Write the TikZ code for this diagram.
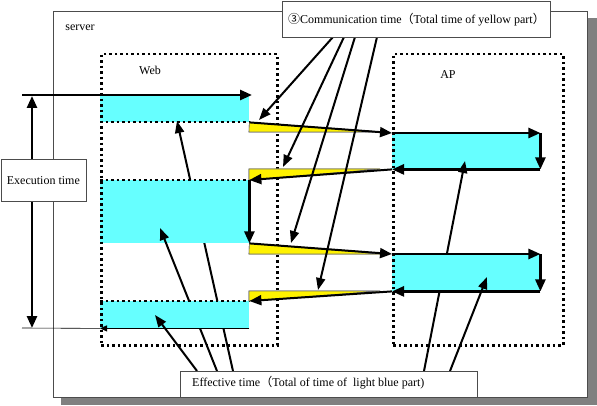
\documentclass[tikz,border=0pt]{standalone}
\usepackage{fontspec}
\setmainfont{Liberation Serif}
\newfontfamily\cjk{Noto Sans CJK JP}
\usetikzlibrary{arrows.meta}
\definecolor{lblue}{RGB}{102,255,255}
\definecolor{shadowgray}{RGB}{128,128,128}
\begin{document}
\begin{tikzpicture}[x=1pt,y=-1pt,
  every node/.style={font=\fontsize{12}{14}\selectfont, inner sep=0pt},
  flow/.style={line width=2.6pt, -{Triangle[length=12pt,width=10pt]}},
  slant/.style={line width=2pt, -{Triangle[length=12pt,width=10pt]}},
  pointer/.style={line width=2pt, -{Triangle[length=12pt,width=9pt]}},
  dotbox/.style={draw, line width=2.5pt, dash pattern=on 2.5pt off 3pt},
  dotedge/.style={line width=2.2pt, dash pattern=on 2.5pt off 3pt},
  cyanpart/.style={fill=lblue, anchor=north west},
  yelpart/.style={fill=yellow, draw=black!55, line width=0.6pt},
  txtbox/.style={draw=black!70, fill=white, line width=0.8pt, anchor=north west}]
\useasboundingbox (0,0) rectangle (597,406);
% server frame with shadow
\fill[shadowgray] (61,18) rectangle (597,405);
\node[draw=black!70, fill=white, line width=0.8pt, anchor=north west,
      minimum width=534pt, minimum height=386pt] (server) at (53,11) {};
\node (serverlbl) at (80,28) {server};
\node (weblbl) at (150,70) {Web};
\node (aplbl) at (448,75) {AP};
% start points of effective-time pointers
\coordinate (e1) at (233,371);
\coordinate (e2) at (217,371);
\coordinate (e3) at (197,371);
\coordinate (e4) at (424,371);
\coordinate (e5) at (450,371);
\coordinate (t1) at (177,121);
\coordinate (t2) at (160,228);
\coordinate (t3) at (155,315);
\coordinate (t4) at (465,161);
\coordinate (t5) at (487,277);
% light blue parts with pointers layered
\node[cyanpart, minimum width=149pt, minimum height=26pt] (w1) at (100,96) {};
\draw[pointer] (e1) -- (t1);
\node[cyanpart, minimum width=149pt, minimum height=63pt] (w2) at (100,180) {};
\draw[pointer] (e2) -- (t2);
\node[cyanpart, minimum width=149pt, minimum height=27pt] (w3) at (100,301) {};
\draw[pointer] (e3) -- (t3);
\node[cyanpart, minimum width=148pt, minimum height=36pt] (a1) at (392,133) {};
\draw[pointer] (e4) -- (t4);
\node[cyanpart, minimum width=148pt, minimum height=37pt] (a2) at (392,254) {};
\draw[pointer] (e5) -- (t5);
% dotted boxes
\node[dotbox, anchor=north west, minimum width=176pt, minimum height=291pt] (web) at (100,53) {};
\node[dotbox, anchor=north west, minimum width=170pt, minimum height=291pt] (ap) at (392,53) {};
\draw[dotedge] (w1.south west) -- (w1.south east);
\draw[dotedge] (w2.north west) -- (w2.north east);
\draw[dotedge] (w3.north west) -- (w3.north east);
% yellow parts
\fill[yelpart] (w1.south east) -- (383,132) -- (249,132) -- cycle;
\fill[yelpart] (249,169) -- (380,169) -- (249,180) -- cycle;
\fill[yelpart] (w2.south east) -- (383,254) -- (249,254) -- cycle;
\fill[yelpart] (249,291) -- (380,291) -- (249,301) -- cycle;
\draw[yelpart] (w1.south east) -- (383,132) -- (249,132) -- cycle;
\draw[yelpart] (249,169) -- (380,169) -- (249,180) -- cycle;
\draw[yelpart] (w2.south east) -- (383,254) -- (249,254) -- cycle;
\draw[yelpart] (249,291) -- (380,291) -- (249,301) -- cycle;
% flow of execution
\coordinate (start) at (22,95);
\coordinate (webend) at (252,95);
\draw[flow] (start) -- (webend);
\draw[slant] (w1.south east) -- (a1.north west);
\draw[flow] (a1.north west) -- (a1.north east);
\draw[flow] (a1.north east) -- (a1.south east);
\draw[flow] (a1.south east) -- (a1.south west);
\draw[slant] (a1.south west) -- (w2.north east);
\draw[flow] (w2.north east) -- (w2.south east);
\draw[slant] (w2.south east) -- (a2.north west);
\draw[flow] (a2.north west) -- (a2.north east);
\draw[flow] (a2.north east) -- (a2.south east);
\draw[flow] (a2.south east) -- (a2.south west);
\draw[slant] (a2.south west) -- (w3.north east);
\coordinate (endmark) at (22,328);
\draw[line width=0.8pt, -{Triangle[length=7pt,width=6pt]}] (w3.south east) -- (w3.south west);
\draw[line width=0.6pt] (w3.south west) -- (endmark);
% execution time span
\coordinate (vtop) at (32,96);
\coordinate (vbot) at (32,328);
\draw[line width=2.6pt, {Triangle[length=12pt,width=10pt]}-{Triangle[length=12pt,width=10pt]}] (vtop) -- (vbot);
\node[txtbox, minimum width=85pt, minimum height=42pt] (exec) at (0.5,159) {Execution time};
% communication-time pointers
\coordinate (c1) at (333,37);
\coordinate (c2) at (344,37);
\coordinate (c3) at (355,37);
\coordinate (c4) at (377,37);
\coordinate (y1) at (259,120);
\coordinate (y2) at (283,167);
\coordinate (y3) at (291,243);
\coordinate (y4) at (318,290);
\draw[pointer] (c1) -- (y1);
\draw[pointer] (c2) -- (y2);
\draw[pointer] (c3) -- (y3);
\draw[pointer] (c4) -- (y4);
\node[txtbox, minimum width=268pt, minimum height=36pt] (comm) at (282,1)
  {{\cjk ③}Communication time{\cjk （}Total time of yellow part{\cjk ）}};
% effective-time label
\node[txtbox, minimum width=297pt, minimum height=26pt] (eff) at (180,371) {};
\node[anchor=west] (efftxt) at (192,383) {Effective time{\cjk （}Total of time of \ light blue part)};
\end{tikzpicture}
\end{document}
